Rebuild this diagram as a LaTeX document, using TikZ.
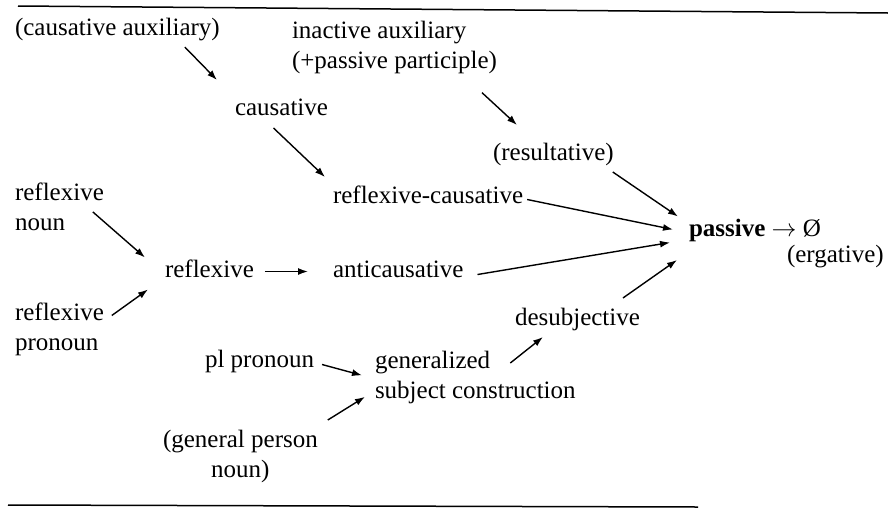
\documentclass[tikz,border=0pt]{standalone}
\usepackage{fontspec}
\setmainfont{Liberation Serif}
\usetikzlibrary{arrows.meta, calc}

\begin{document}
\begin{tikzpicture}[x=1pt, y=-1pt,
lbl/.style={font=\fontsize{25}{30}\selectfont, inner sep=0pt, outer sep=0pt},
word/.style={lbl, anchor=base west, text height=17pt, text depth=6pt},
block/.style={lbl, anchor=north west, align=left},
arr/.style={line width=1.4pt, -{Latex[length=10pt, width=7pt]}},
hrule/.style={line width=1.5pt}]
\useasboundingbox (0,0) rectangle (888,509);
\draw[hrule] (18,6) -- (888,13);
\draw[hrule] (8,505) -- (698,507);

\node[word] (causaux) at (15,35) {(causative auxiliary)};
\node[block] (inact) at (292,21) {inactive auxiliary\\(+passive participle)};
\node[word] (caus) at (235,115) {causative};
\node[word] (result) at (493,160) {(resultative)};
\node[word] (refcaus) at (333,203) {reflexive-causative};
\node[word] (passive) at (689,236) {\textbf{passive} $\rightarrow$ Ø};
\node[word] (erg) at (787,262) {(ergative)};
\node[block] (reflnoun) at (15,183) {reflexive\\noun};
\node[word] (refl) at (165,277) {reflexive};
\node[word] (anticaus) at (333,277) {anticausative};
\node[block] (reflpron) at (15,303) {reflexive\\pronoun};
\node[word] (desubj) at (515,325) {desubjective};
\node[word] (plpron) at (205,367) {pl pronoun};
\node[block] (gensubj) at (375,351) {generalized\\subject construction};
\node[block, align=center] (genpers) at (163,430) {(general person\\noun)};

\draw[arr] ($(causaux.south east)+(-35,6)$) -- ($(caus.north west)+(-18,-18)$);
\draw[arr] ($(caus.south)+(-8,7)$) -- ($(refcaus.north west)+(-8,-9)$);
\draw[arr] ($(inact.south east)+(-15,19)$) -- ($(result.north west)+(24,-18)$);
\draw[arr] ($(result.south east)+(-1,6)$) -- ($(passive.west)+(-11,-14)$);
\draw[arr] ($(refcaus.east)+(4,2)$) -- ($(passive.west)+(-16,-1)$);
\draw[arr] ($(anticaus.east)+(14,3)$) -- ($(passive.west)+(-19,12)$);
\draw[arr] ($(desubj.north east)+(-17,-10)$) -- ($(passive.south west)+(-12,18)$);
\draw[arr] ($(reflnoun.east)+(-11,5)$) -- ($(refl.west)+(-20,-14)$);
\draw[arr] ($(reflpron.east)+(8,-14)$) -- ($(refl.west)+(-17,18)$);
\draw[arr] ($(refl.east)+(11,0)$) -- ($(anticaus.west)+(-25,0)$);
\draw[arr] ($(plpron.east)+(8,3)$) -- ($(gensubj.west)+(-13,-2)$);
\draw[arr] ($(genpers.north east)+(10,-10)$) -- ($(gensubj.west)+(-10,19.5)$);
\draw[arr] ($(gensubj.north)+(35,12)$) -- ($(desubj.south west)+(28,6)$);
\end{tikzpicture}
\end{document}
